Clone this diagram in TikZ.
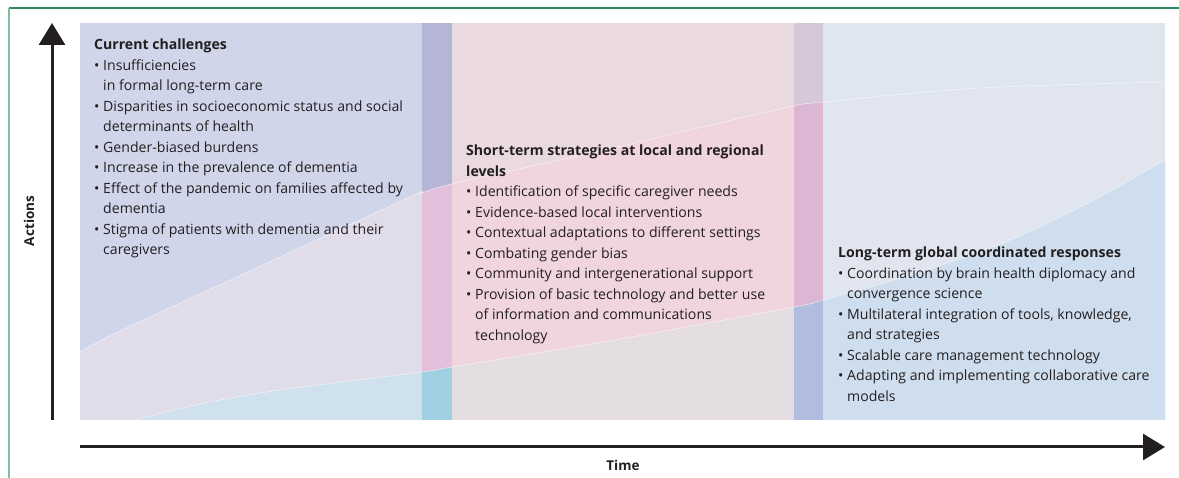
\documentclass[tikz,border=0pt]{standalone}
\usepackage{fontspec}
\setmainfont{Open Sans}
\usetikzlibrary{arrows.meta}
\definecolor{txt}{HTML}{231F20}
\definecolor{frameA}{HTML}{2A8A5A}
\definecolor{frameB}{HTML}{7DBF9C}
% column colours: top / middle band / bottom band
\definecolor{LT}{HTML}{D0D5EA}\definecolor{LM}{HTML}{E0DCEA}\definecolor{LB}{HTML}{D0E1EE}
\definecolor{AT}{HTML}{B5B5D8}\definecolor{AM}{HTML}{E2BFDB}\definecolor{AB}{HTML}{A1CFE4}
\definecolor{MT}{HTML}{EADADF}\definecolor{MM}{HTML}{F0D5DC}\definecolor{MB}{HTML}{E4DDE2}
\definecolor{BT}{HTML}{D6C8D9}\definecolor{BM}{HTML}{DBB7D4}\definecolor{BB}{HTML}{B0BDDF}
\definecolor{RT}{HTML}{E0E6EF}\definecolor{RM}{HTML}{E0E5EF}\definecolor{RB}{HTML}{CFDEEE}
\newcommand{\upperpts}{(80,352) (120,331) (250,271) (410,197) (422,193) (452,184) (600,151) (780,109) (823,102) (980,88) (1165,82)}
\newcommand{\lowerpts}{(135,420) (200,404) (280,390) (422,372) (452,367) (620,339) (794,307) (823,300) (920,272) (1010,240) (1090,202) (1165,160)}
\newcommand{\bul}{\makebox[9pt][l]{\textbullet}}
\newcommand{\ind}{\hspace*{9pt}}
\newcommand{\column}[5]{%
  \fill[#3] (#1,23) rectangle (#2,420);
  \begin{scope}
    \clip (#1,23) rectangle (#2,420);
    \fill[#4] plot[smooth] coordinates {\upperpts} -- (1165,420) -- (80,420) -- cycle;
    \fill[#5] plot[smooth] coordinates {\lowerpts} -- (1165,420) -- cycle;
  \end{scope}}
\tikzset{
  block/.style={anchor=base west, inner sep=0pt, text=txt, font=\fontsize{14.1}{20.5}\selectfont},
  axis/.style={line width=3pt, draw=txt, -{Triangle[length=22pt,width=26pt]}},
  axlabel/.style={inner sep=0pt, text=txt, font=\fontsize{13.5}{16}\selectfont\bfseries}
}
\begin{document}
\begin{tikzpicture}[x=1pt,y=-1pt]
\useasboundingbox (0,0) rectangle (1179,478);
% frame
\draw[frameA, line width=1.4pt] (9,8) -- (1179,8);
\draw[frameB, line width=1.4pt] (9,8) -- (9,478);
% columns
\column{80}{422}{LT}{LM}{LB}
\column{422}{452}{AT}{AM}{AB}
\column{452}{794}{MT}{MM}{MB}
\column{794}{823}{BT}{BM}{BB}
\column{823}{1165}{RT}{RM}{RB}
\draw[white, opacity=0.6, line width=0.6pt] plot[smooth] coordinates {\upperpts};
\draw[white, opacity=0.6, line width=0.6pt] plot[smooth] coordinates {\lowerpts};
% axes
\coordinate (ybot) at (52,420);
\coordinate (ytop) at (52,23);
\coordinate (xleft) at (80,447);
\coordinate (xright) at (1165,447);
\draw[axis] (ybot) -- (ytop);
\draw[axis] (xleft) -- (xright);
\node[axlabel, rotate=90] (actions) at (29,221) {Actions};
\node[axlabel, anchor=base] (time) at (623,470) {Time};
% text blocks
\node[block] (challenges) at (94,50) {\begin{tabular}[t]{@{}l@{}}
\textbf{Current challenges}\\
\bul Insufficiencies\\
\ind in formal long-term care\\
\bul Disparities in socioeconomic status and social\\
\ind determinants of health\\
\bul Gender-biased burdens\\
\bul Increase in the prevalence of dementia\\
\bul Effect of the pandemic on families affected by\\
\ind dementia\\
\bul Stigma of patients with dementia and their\\
\ind caregivers
\end{tabular}};
\node[block] (shortterm) at (466,156) {\begin{tabular}[t]{@{}l@{}}
\textbf{Short-term strategies at local and regional}\\
\textbf{levels}\\
\bul Identification of specific caregiver needs\\
\bul Evidence-based local interventions\\
\bul Contextual adaptations to different settings\\
\bul Combating gender bias\\
\bul Community and intergenerational support\\
\bul Provision of basic technology and better use\\
\ind of information and communications\\
\ind technology
\end{tabular}};
\node[block] (longterm) at (838,258) {\begin{tabular}[t]{@{}l@{}}
\textbf{Long-term global coordinated responses}\\
\bul Coordination by brain health diplomacy and\\
\ind convergence science\\
\bul Multilateral integration of tools, knowledge,\\
\ind and strategies\\
\bul Scalable care management technology\\
\bul Adapting and implementing collaborative care\\
\ind models
\end{tabular}};
\end{tikzpicture}
\end{document}
